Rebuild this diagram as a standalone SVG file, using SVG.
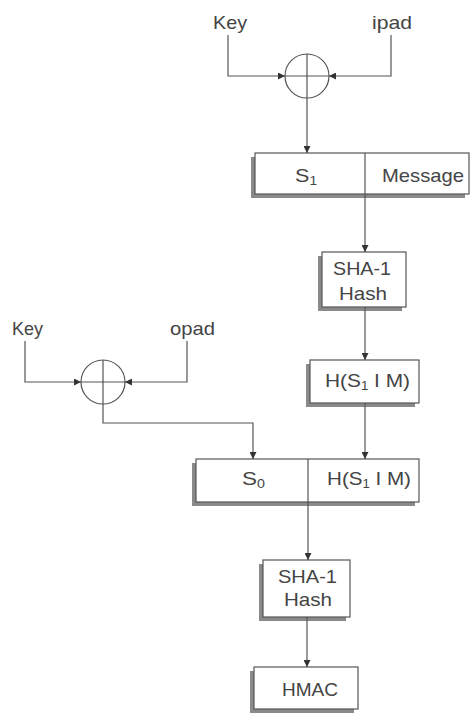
<svg xmlns="http://www.w3.org/2000/svg" width="473" height="713" viewBox="0 0 473 713">
<style>
text{font-family:"Liberation Sans",Arial,sans-serif;font-size:19px;fill:#444}
.sh{fill:#8a8a8a}
.bx{fill:#fff;stroke:#555;stroke-width:1.2}
.ln{fill:none;stroke:#555;stroke-width:1.2}
.sub{font-size:12px}
</style>
<defs>
<marker id="ah" viewBox="0 0 10 10" refX="10" refY="5" markerWidth="7" markerHeight="7" markerUnits="userSpaceOnUse" orient="auto">
<path d="M0,0 L10,5 L0,10 z" fill="#333"/>
</marker>
</defs>
<rect width="473" height="713" fill="#fff"/>

<g id="labels">
<text x="213" y="29" textLength="34" lengthAdjust="spacingAndGlyphs">Key</text>
<text x="372" y="29" textLength="40" lengthAdjust="spacingAndGlyphs">ipad</text>
<text x="12" y="335" textLength="31" lengthAdjust="spacingAndGlyphs">Key</text>
<text x="170" y="335" textLength="45" lengthAdjust="spacingAndGlyphs">opad</text>
</g>

<g id="xor1">
<circle cx="307" cy="76" r="22" class="ln"/>
<line x1="285" y1="76" x2="329" y2="76" class="ln"/>
<line x1="307" y1="54" x2="307" y2="98" class="ln"/>
</g>
<g id="xor2">
<circle cx="103" cy="382" r="22" class="ln"/>
<line x1="81" y1="382" x2="125" y2="382" class="ln"/>
<line x1="103" y1="360" x2="103" y2="404" class="ln"/>
</g>

<g id="s1msg">
<rect x="251" y="157" width="214" height="41" class="sh"/>
<rect x="255" y="153" width="214" height="41" class="bx"/>
<line x1="365" y1="153" x2="365" y2="194" class="ln"/>
<text x="295" y="182" textLength="22" lengthAdjust="spacingAndGlyphs">S<tspan class="sub" dy="3">1</tspan></text>
<text x="382" y="182" textLength="82" lengthAdjust="spacingAndGlyphs">Message</text>
</g>

<g id="sha1a">
<rect x="318" y="256" width="84" height="55" class="sh"/>
<rect x="322" y="252" width="84" height="55" class="bx"/>
<text x="333" y="275" textLength="58" lengthAdjust="spacingAndGlyphs">SHA-1</text>
<text x="339" y="300" textLength="48" lengthAdjust="spacingAndGlyphs">Hash</text>
</g>

<g id="hs1m">
<rect x="306" y="364" width="109" height="43" class="sh"/>
<rect x="310" y="360" width="109" height="43" class="bx"/>
<text x="325" y="387" textLength="85" lengthAdjust="spacingAndGlyphs">H(S<tspan class="sub" dy="3">1</tspan><tspan dy="-3"> I M)</tspan></text>
</g>

<g id="s0h">
<rect x="192" y="463" width="223" height="43" class="sh"/>
<rect x="196" y="459" width="223" height="43" class="bx"/>
<line x1="308" y1="459" x2="308" y2="502" class="ln"/>
<text x="242" y="485" textLength="23" lengthAdjust="spacingAndGlyphs">S<tspan class="sub" dy="3">0</tspan></text>
<text x="327" y="485" textLength="84" lengthAdjust="spacingAndGlyphs">H(S<tspan class="sub" dy="3">1</tspan><tspan dy="-3"> I M)</tspan></text>
</g>

<g id="sha1b">
<rect x="259" y="564" width="87" height="57" class="sh"/>
<rect x="263" y="560" width="87" height="57" class="bx"/>
<text x="278" y="583" textLength="59" lengthAdjust="spacingAndGlyphs">SHA-1</text>
<text x="284" y="606" textLength="48" lengthAdjust="spacingAndGlyphs">Hash</text>
</g>

<g id="hmac">
<rect x="250" y="671" width="104" height="42" class="sh"/>
<rect x="254" y="667" width="104" height="42" class="bx"/>
<text x="282" y="696" textLength="56" lengthAdjust="spacingAndGlyphs">HMAC</text>
</g>

<g id="connectors">
<polyline points="228,35 228,76 285,76" class="ln" marker-end="url(#ah)"/>
<polyline points="391,35 391,76 329,76" class="ln" marker-end="url(#ah)"/>
<line x1="307" y1="98" x2="307" y2="153" class="ln" marker-end="url(#ah)"/>
<line x1="365" y1="194" x2="365" y2="252" class="ln" marker-end="url(#ah)"/>
<line x1="365" y1="307" x2="365" y2="360" class="ln" marker-end="url(#ah)"/>
<line x1="365" y1="403" x2="365" y2="459" class="ln" marker-end="url(#ah)"/>
<polyline points="25,341 25,382 81,382" class="ln" marker-end="url(#ah)"/>
<polyline points="187,341 187,382 125,382" class="ln" marker-end="url(#ah)"/>
<polyline points="103,404 103,423 253,423 253,459" class="ln" marker-end="url(#ah)"/>
<line x1="308" y1="502" x2="308" y2="560" class="ln" marker-end="url(#ah)"/>
<line x1="307" y1="617" x2="307" y2="667" class="ln" marker-end="url(#ah)"/>
</g>
</svg>
